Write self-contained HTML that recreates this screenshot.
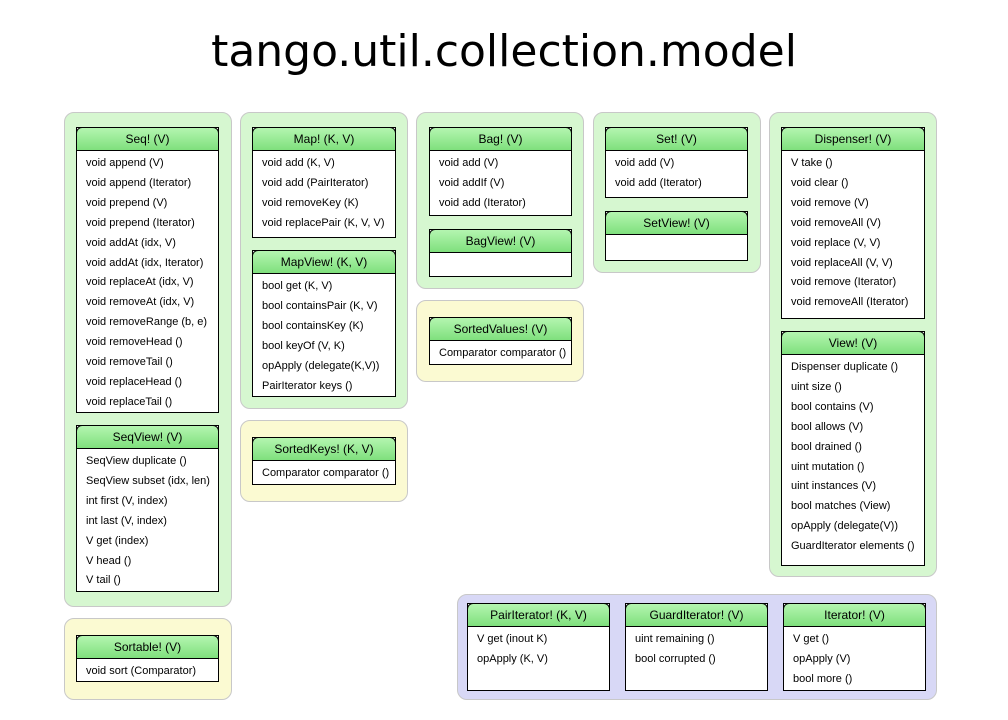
<!DOCTYPE html>
<html><head><meta charset="utf-8"><style>
body{margin:0;width:1008px;height:720px;background:#fff;position:relative;font-family:"Liberation Sans",sans-serif;overflow:hidden}
.t{position:absolute;left:0;width:1008px;top:26px;text-align:center;font-size:44px;color:#000;font-family:"DejaVu Sans","Liberation Sans",sans-serif}
.g{position:absolute;border:1px solid #c8c8c8;border-radius:10px}
.gr{background:#d6f7d0}.ye{background:#fbfad2}.bl{background:#d8d8f6}
.b{position:absolute;border:1px solid #000;background:#fff;box-sizing:border-box}
.h{position:absolute;left:-1px;right:-1px;top:-1px;height:24px;border:1px solid #000;border-radius:6px 6px 0 0;background:linear-gradient(#b4f5b0,#7fe07d);text-align:center;font-size:12px;line-height:23px;box-sizing:border-box}
.bd{position:absolute;top:26px;left:9px;font-size:11px;line-height:19.9px;white-space:nowrap}
</style></head><body>
<div class="t">tango.util.collection.model</div>

<div class="g gr" style="left:64px;top:112px;width:166px;height:493px"></div>
<div class="g ye" style="left:64px;top:618px;width:166px;height:80px"></div>
<div class="g gr" style="left:240px;top:112px;width:166px;height:295px"></div>
<div class="g ye" style="left:240px;top:420px;width:166px;height:80px"></div>
<div class="g gr" style="left:416px;top:112px;width:166px;height:175px"></div>
<div class="g ye" style="left:416px;top:300px;width:166px;height:80px"></div>
<div class="g gr" style="left:593px;top:112px;width:166px;height:159px"></div>
<div class="g gr" style="left:769px;top:112px;width:166px;height:463px"></div>
<div class="g bl" style="left:457px;top:594px;width:478px;height:104px"></div>

<div class="b" style="left:76px;top:127px;width:143px;height:286px"><div class="h">Seq! (V)</div><div class="bd">void append (V)<br>void append (Iterator)<br>void prepend (V)<br>void prepend (Iterator)<br>void addAt (idx, V)<br>void addAt (idx, Iterator)<br>void replaceAt (idx, V)<br>void removeAt (idx, V)<br>void removeRange (b, e)<br>void removeHead ()<br>void removeTail ()<br>void replaceHead ()<br>void replaceTail ()</div></div>
<div class="b" style="left:76px;top:425px;width:143px;height:167px"><div class="h">SeqView! (V)</div><div class="bd">SeqView duplicate ()<br>SeqView subset (idx, len)<br>int first (V, index)<br>int last (V, index)<br>V get (index)<br>V head ()<br>V tail ()</div></div>
<div class="b" style="left:76px;top:635px;width:143px;height:47px"><div class="h">Sortable! (V)</div><div class="bd">void sort (Comparator)</div></div>

<div class="b" style="left:252px;top:127px;width:144px;height:111px"><div class="h">Map! (K, V)</div><div class="bd">void add (K, V)<br>void add (PairIterator)<br>void removeKey (K)<br>void replacePair (K, V, V)</div></div>
<div class="b" style="left:252px;top:250px;width:144px;height:147px"><div class="h">MapView! (K, V)</div><div class="bd">bool get (K, V)<br>bool containsPair (K, V)<br>bool containsKey (K)<br>bool keyOf (V, K)<br>opApply (delegate(K,V))<br>PairIterator keys ()</div></div>
<div class="b" style="left:252px;top:437px;width:144px;height:48px"><div class="h">SortedKeys! (K, V)</div><div class="bd">Comparator comparator ()</div></div>

<div class="b" style="left:429px;top:127px;width:143px;height:89px"><div class="h">Bag! (V)</div><div class="bd">void add (V)<br>void addIf (V)<br>void add (Iterator)</div></div>
<div class="b" style="left:429px;top:229px;width:143px;height:48px"><div class="h">BagView! (V)</div></div>
<div class="b" style="left:429px;top:317px;width:143px;height:48px"><div class="h">SortedValues! (V)</div><div class="bd">Comparator comparator ()</div></div>

<div class="b" style="left:605px;top:127px;width:143px;height:71px"><div class="h">Set! (V)</div><div class="bd">void add (V)<br>void add (Iterator)</div></div>
<div class="b" style="left:605px;top:211px;width:143px;height:50px"><div class="h">SetView! (V)</div></div>

<div class="b" style="left:781px;top:127px;width:144px;height:192px"><div class="h">Dispenser! (V)</div><div class="bd">V take ()<br>void clear ()<br>void remove (V)<br>void removeAll (V)<br>void replace (V, V)<br>void replaceAll (V, V)<br>void remove (Iterator)<br>void removeAll (Iterator)</div></div>
<div class="b" style="left:781px;top:331px;width:144px;height:235px"><div class="h">View! (V)</div><div class="bd">Dispenser duplicate ()<br>uint size ()<br>bool contains (V)<br>bool allows (V)<br>bool drained ()<br>uint mutation ()<br>uint instances (V)<br>bool matches (View)<br>opApply (delegate(V))<br>GuardIterator elements ()</div></div>

<div class="b" style="left:467px;top:603px;width:143px;height:88px"><div class="h">PairIterator! (K, V)</div><div class="bd">V get (inout K)<br>opApply (K, V)</div></div>
<div class="b" style="left:625px;top:603px;width:143px;height:88px"><div class="h">GuardIterator! (V)</div><div class="bd">uint remaining ()<br>bool corrupted ()</div></div>
<div class="b" style="left:783px;top:603px;width:143px;height:88px"><div class="h">Iterator! (V)</div><div class="bd">V get ()<br>opApply (V)<br>bool more ()</div></div>
</body></html>
